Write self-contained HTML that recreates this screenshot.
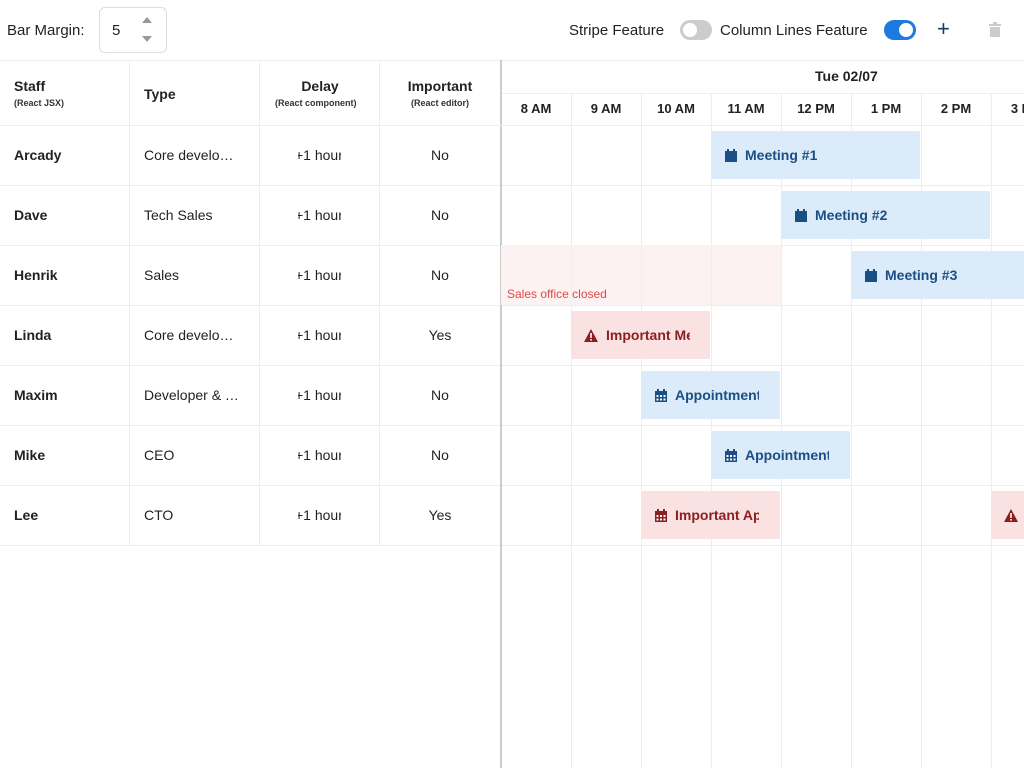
<!DOCTYPE html>
<html><head><meta charset="utf-8">
<style>
*{box-sizing:border-box;margin:0;padding:0}
html,body{width:1024px;height:768px;overflow:hidden}
body{background:#fff;font-family:"Liberation Sans",sans-serif;color:#222;position:relative}
.abs{position:absolute}
.tb{font-size:15px;color:#222}
.hdr{font-weight:bold;font-size:14px;color:#222}
.sub{font-size:9px;font-weight:bold;color:#333}
.cell{font-size:14px;color:#222;white-space:nowrap}
.vline{position:absolute;width:1px;background:#eee}
.hline{position:absolute;height:1px;background:#eee}
.ev{position:absolute;height:48px;border-radius:2px;font-weight:bold;font-size:14px;display:flex;align-items:center;padding-left:14px;overflow:hidden;white-space:nowrap}
.ev.blue{background:#dcebf9;color:#1a4f85}
.ev.red{background:#fbe2e2;color:#8b1e1e}
.ev .ic{margin-right:8px;font-size:13px}
#wrap{position:absolute;left:0;top:0;width:1024px;height:768px;overflow:hidden}
</style></head><body>
<div id="wrap">
<!-- toolbar -->
<div class="abs tb" style="left:7px;top:22px">Bar Margin:</div>
<div class="abs" style="left:99px;top:7px;width:68px;height:46px;border:1px solid #ddd;border-radius:6px">
 <span class="abs tb" style="left:12px;top:14px">5</span>
 <span class="abs" style="left:42px;top:9px;width:0;height:0;border-left:5px solid transparent;border-right:5px solid transparent;border-bottom:6px solid #999"></span>
 <span class="abs" style="left:42px;top:28px;width:0;height:0;border-left:5px solid transparent;border-right:5px solid transparent;border-top:6px solid #999"></span>
</div>
<div class="abs tb" style="left:569px;top:22px">Stripe Feature</div>
<div class="abs" style="left:680px;top:20px;width:32px;height:20px;border-radius:10px;background:#ccc"><span class="abs" style="left:3px;top:3px;width:14px;height:14px;border-radius:7px;background:#fff"></span></div>
<div class="abs tb" style="left:720px;top:22px">Column Lines Feature</div>
<div class="abs" style="left:884px;top:20px;width:32px;height:20px;border-radius:10px;background:#1f7ae0"><span class="abs" style="left:15px;top:3px;width:14px;height:14px;border-radius:7px;background:#fff"></span></div>
<div class="abs" style="left:937px;top:16px;font-size:22px;color:#1a3a6a">+</div>
<svg class="abs" style="left:989px;top:22px" width="12" height="15"><rect x="0" y="2" width="12" height="2" fill="#ccc"/><rect x="4" y="0" width="4" height="2" fill="#ccc"/><rect x="1" y="5" width="10" height="10" fill="#ccc"/></svg>
<div class="hline" style="left:0;top:60px;width:1024px"></div>

<!-- grid header -->
<div class="abs hdr" style="left:14px;top:78px">Staff</div>
<div class="abs sub" style="left:14px;top:98px">(React JSX)</div>
<div class="abs hdr" style="left:144px;top:86px">Type</div>
<div class="abs hdr" style="left:260px;width:120px;text-align:center;top:78px">Delay</div>
<div class="abs sub" style="left:275px;top:98px;width:92px;overflow:hidden;white-space:nowrap">(React component)</div>
<div class="abs hdr" style="left:380px;width:120px;text-align:center;top:78px">Important</div>
<div class="abs sub" style="left:380px;width:120px;text-align:center;top:98px">(React editor)</div>

<div id="grid"></div>
<div class="abs" style="left:500px;top:60px;width:2px;height:708px;background:#ccc"></div>
<div class="abs hdr" style="left:815px;top:68px;font-size:14px">Tue 02/07</div>
<div class="hline" style="left:502px;top:93px;width:522px"></div>
<div class="hline" style="left:0;top:125px;width:1024px"></div>
<div id="sched" class="abs" style="left:0;top:0;width:1024px;height:768px;overflow:hidden"></div>
</div>
<script>
const staff=["Arcady","Dave","Henrik","Linda","Maxim","Mike","Lee"];
const types=["Core develo…","Tech Sales","Sales","Core develo…","Developer & …","CEO","CTO"];
const important=["No","No","No","Yes","No","No","Yes"];
const hours=["8 AM","9 AM","10 AM","11 AM","12 PM","1 PM","2 PM","3 PM"];
const evNames=["Meeting #1","Meeting #2","Meeting #3","Important Meeting","Appointment","Appointment","Important Appointment","Important"];
const evRow=[0,1,2,3,4,5,6,6];
const evStart=[11,12,13,9,10,11,10,15];
const evDur=[3,3,3,2,2,2,2,2];
const evKind=["blue","blue","blue","red","blue","blue","red","red"];
const evIcon=["cal","cal","cal","warn","grid","grid","grid","warn"];
const zoneRow=2, zoneStart=8, zoneEnd=12;

const ROW0=125,RH=60,X0=501,HW=70,H0=8;
const xOf=h=>X0+(h-H0)*HW;
const yOf=r=>ROW0+r*RH;
const g=document.getElementById('grid'), s=document.getElementById('sched');
[130,260,380].forEach(x=>{const d=document.createElement('div');d.className='vline';d.style.cssText=`left:${x-1}px;top:60px;height:${ROW0+staff.length*RH-60}px`;


g.appendChild(d);});
const z=document.createElement('div');z.className='abs';z.style.cssText=`left:${xOf(zoneStart)}px;top:${yOf(zoneRow)}px;width:${xOf(zoneEnd)-xOf(zoneStart)}px;height:${RH}px;background:#fdf2f2`;
z.innerHTML='<span style="position:absolute;left:6px;bottom:4px;font-size:12px;color:#e04848;white-space:nowrap">Sales office closed</span>';


s.appendChild(z);
hours.forEach((h,i)=>{const x=xOf(H0+i);
const l=document.createElement('div');l.className='vline';l.style.cssText=`left:${x+70}px;top:93px;height:675px`;


s.appendChild(l);
const t=document.createElement('div');t.className='abs hdr';t.style.cssText=`left:${x}px;width:70px;text-align:center;top:101px;font-size:13px`;t.textContent=h;


s.appendChild(t);});
staff.forEach((n,r)=>{const y=yOf(r);
const hl=document.createElement('div');hl.className='hline';hl.style.cssText=`left:0;top:${y+RH}px;width:1024px`;


g.appendChild(hl);
const mk=(txt,st,name)=>{const d=document.createElement('div');d.className='abs cell';d.style.cssText=st+`;top:${y+22}px`;d.textContent=txt;


g.appendChild(d);};
mk(n,'left:14px;font-weight:bold','staff-cell');
mk(types[r],'left:144px','type-cell');
mk('+1 hour','left:298px;width:43px;overflow:hidden;text-indent:-3px','delay-cell');
mk(important[r],'left:380px;width:120px;text-align:center','important-cell');
});
const icons={
cal:'<svg width="12" height="13"><rect x="0" y="2" width="12" height="11" fill="currentColor"/><rect x="2" y="0" width="2" height="3" fill="currentColor"/><rect x="8" y="0" width="2" height="3" fill="currentColor"/></svg>',
grid:'<svg width="12" height="13"><rect x="0" y="2" width="12" height="11" fill="currentColor"/><rect x="2" y="0" width="2" height="3" fill="currentColor"/><rect x="8" y="0" width="2" height="3" fill="currentColor"/><g fill="#fff"><rect x="1.5" y="6" width="2" height="2"/><rect x="5" y="6" width="2" height="2"/><rect x="8.5" y="6" width="2" height="2"/><rect x="1.5" y="9.5" width="2" height="2"/><rect x="5" y="9.5" width="2" height="2"/><rect x="8.5" y="9.5" width="2" height="2"/></g></svg>',
warn:'<svg width="14" height="13"><polygon points="7,0 14,13 0,13" fill="currentColor"/><rect x="6.2" y="4" width="1.6" height="5" fill="#fff"/><rect x="6.2" y="10" width="1.6" height="1.6" fill="#fff"/></svg>'};
evNames.forEach((n,i)=>{const x=xOf(evStart[i]);const d=document.createElement('div');d.className='ev '+evKind[i];
d.style.cssText=`left:${x}px;top:${yOf(evRow[i])+6}px;width:${evDur[i]*HW-1}px;padding-left:${evIcon[i]=='warn'?13:14}px`;
d.innerHTML=`<span class="ic" style="display:flex">${icons[evIcon[i]]}</span><span style="overflow:hidden;max-width:${evDur[i]*HW-56}px">${n}</span>`;


s.appendChild(d);});
</script>
</body></html>
